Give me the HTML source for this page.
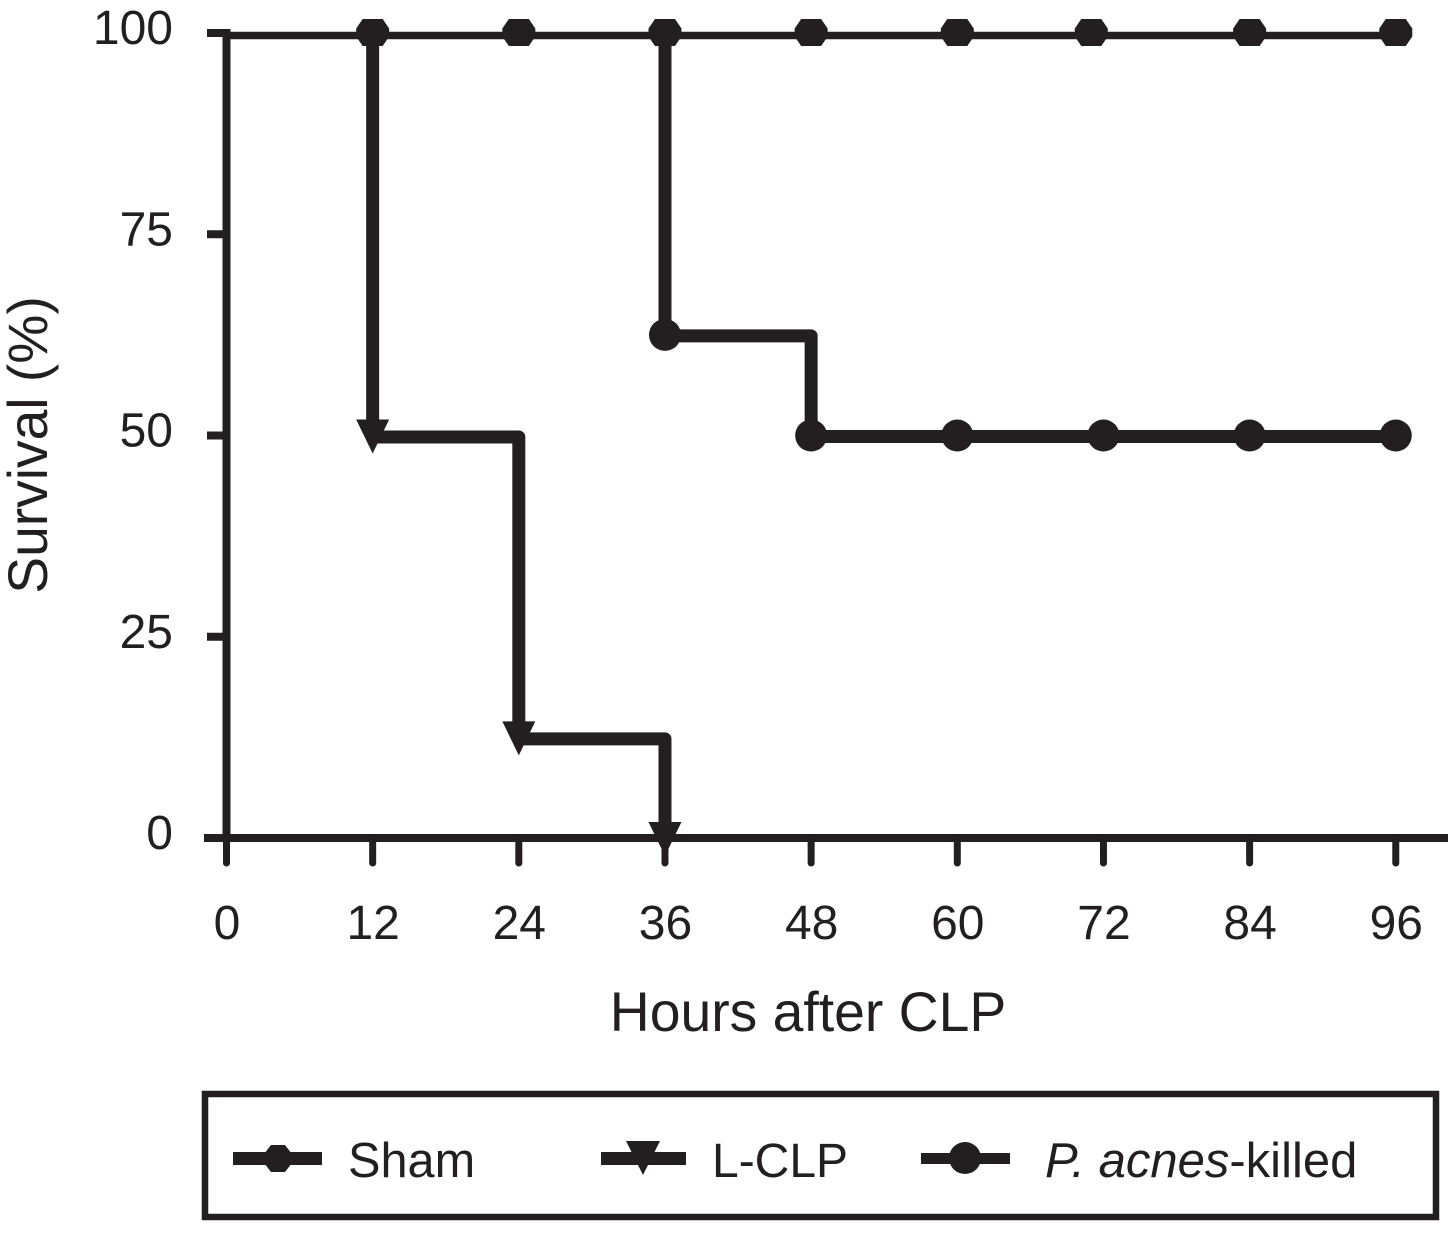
<!DOCTYPE html>
<html>
<head>
<meta charset="utf-8">
<style>
html,body{margin:0;padding:0;background:#fff;}
svg{display:block;}
text{font-family:"Liberation Sans",sans-serif;fill:#231f20;}
</style>
</head>
<body>
<svg id="chart" width="1448" height="1258" viewBox="0 0 1448 1258" xmlns="http://www.w3.org/2000/svg">
<rect width="1448" height="1258" fill="#fff"/>
<text transform="translate(47,445) rotate(-90)" text-anchor="middle" font-size="55.2">Survival (%)</text>
<text x="808" y="1031" text-anchor="middle" font-size="55.3">Hours after CLP</text>
<g id="plot"></g>
<g>
<rect x="205" y="1094" width="1231" height="123" fill="none" stroke="#231f20" stroke-width="6.5"/>
<g>
<rect x="233" y="1152" width="89" height="13" fill="#231f20"/>
<polygon points="264,1154 271,1145 285,1145 292,1154 292,1163 285,1172 271,1172 264,1163" fill="#231f20"/>
<text x="348" y="1177" font-size="48.7">Sham</text>
</g>
<g>
<rect x="601" y="1152" width="85" height="13" fill="#231f20"/>
<polygon points="626,1141 660,1141 643,1175" fill="#231f20"/>
<text x="712" y="1177" font-size="48">L-CLP</text>
</g>
<g>
<rect x="921" y="1153" width="89" height="11" fill="#231f20"/>
<circle cx="965" cy="1158" r="16" fill="#231f20"/>
<text x="1045" y="1177" font-size="49"><tspan font-style="italic">P. acnes</tspan>-killed</text>
</g>
</g>
</svg>
<script>
var xTicks = [0, 12, 24, 36, 48, 60, 72, 84, 96];
var yTicks = [0, 25, 50, 75, 100];
var shamHours = [12, 24, 36, 48, 60, 71, 84, 96];
var shamValues = [100, 100, 100, 100, 100, 100, 100, 100];
var lclpHours = [12, 12, 24, 36];
var lclpValues = [100, 50, 12.5, 0];
var killedHours = [36, 36, 48, 60, 72, 84, 96];
var killedValues = [100, 62.5, 50, 50, 50, 50, 50];

var INK = '#231f20';
var NS = 'http://www.w3.org/2000/svg';
var plot = document.getElementById('plot');
function xScale(h) { return 226.5 + h * 12.18; }
function yScale(v) { return 838 - v * 8.05; }
function make(tag, attrs) {
  var el = document.createElementNS(NS, tag);
  for (var k in attrs) { el.setAttribute(k, attrs[k]); }
  plot.appendChild(el);
  return el;
}
function stepPath(hours, values) {
  var d = 'M' + xScale(hours[0]) + ' ' + yScale(values[0]);
  for (var i = 1; i < hours.length; i++) {
    d += 'H' + xScale(hours[i]) + 'V' + yScale(values[i]);
  }
  return d;
}

var yAxis = make('line', { x1: xScale(0), x2: xScale(0), y1: yScale(100) - 4, y2: yScale(0), stroke: INK, 'stroke-width': 8 });


var xAxis = make('line', { x1: 204, x2: 1448, y1: yScale(0), y2: yScale(0), stroke: INK, 'stroke-width': 8 });



yTicks.forEach(function (v) {
  var tick = make('line', { x1: 207, x2: xScale(0), y1: yScale(v), y2: yScale(v), stroke: INK, 'stroke-width': 8 });
  
  
  var label = make('text', { x: 173, y: yScale(v) + 11, 'text-anchor': 'end', 'font-size': 48 });
  
  
  label.textContent = v;
});
xTicks.forEach(function (h) {
  var tick = make('line', { x1: xScale(h), x2: xScale(h), y1: yScale(0), y2: 863, stroke: INK, 'stroke-width': 7, 'stroke-linecap': 'round' });
  
  
  var label = make('text', { x: xScale(h) + 0.5, y: 939, 'text-anchor': 'middle', 'font-size': 48 });
  
  
  label.textContent = h;
});

var shamLine = make('path', { d: 'M' + xScale(0) + ' ' + yScale(100) + 'H' + xScale(shamHours[shamHours.length - 1]), transform: 'translate(0,2.5)', fill: 'none', stroke: INK, 'stroke-width': 7.5 });


var lclpLine = make('path', { d: stepPath(lclpHours, lclpValues), transform: 'translate(0,1.5)', fill: 'none', stroke: INK, 'stroke-width': 13, 'stroke-linejoin': 'round' });


var killedLine = make('path', { d: stepPath(killedHours, killedValues), transform: 'translate(0,1)', fill: 'none', stroke: INK, 'stroke-width': 13, 'stroke-linejoin': 'round' });



shamHours.forEach(function (h, i) {
  var x = xScale(h), y = yScale(shamValues[i]) - 0.5;
  var pts = [[x - 16.5, y - 4], [x - 10, y - 13.5], [x + 10, y - 13.5], [x + 16.5, y - 4], [x + 16.5, y + 4], [x + 10, y + 13.5], [x - 10, y + 13.5], [x - 16.5, y + 4]];
  var m = make('polygon', { points: pts.join(' '), fill: INK });
  
  
});
lclpHours.slice(1).forEach(function (h, i) {
  var x = xScale(h), y = yScale(lclpValues[i + 1]);
  var pts = [[x - 16.5, y - 16], [x + 16.5, y - 16], [x, y + 18]];
  var m = make('polygon', { points: pts.join(' '), fill: INK });
  
  
});
killedHours.slice(1).forEach(function (h, i) {
  var m = make('circle', { cx: xScale(h), cy: yScale(killedValues[i + 1]), r: 16, fill: INK });
  
  
});
</script>
</body>
</html>
